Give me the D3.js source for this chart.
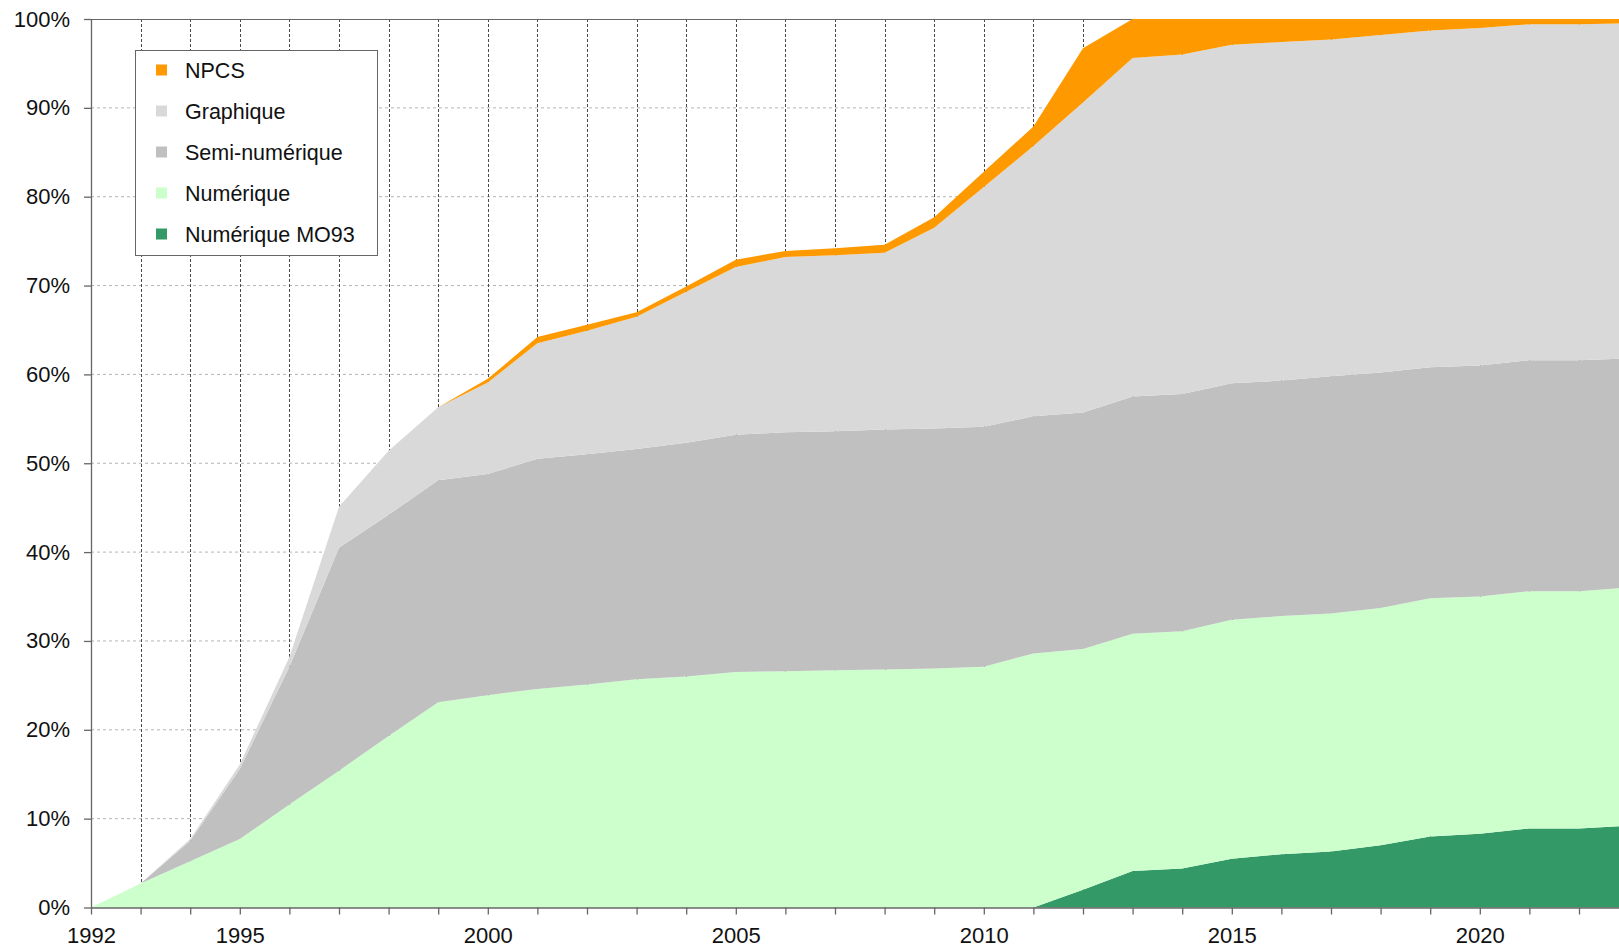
<!DOCTYPE html>
<html lang="fr">
<head>
<meta charset="utf-8">
<title>Parts des plans</title>
<script src="https://cdn.jsdelivr.net/npm/d3@7"></script>
<style>
    body { margin: 0; background: #fff; }
    .tick-label { font-family: "Liberation Sans", Arial, sans-serif; font-size: 22px; fill: #111; }
    .legend-label { font-family: "Liberation Sans", Arial, sans-serif; font-size: 21.5px; fill: #111; }
</style>
</head>
<body>
<div id="chart-area"></div>
<script>

// Years on the x axis
const years = d3.range(1992, 2024);

// Year labels shown under the axis
const yearLabels = [1992, 1995, 2000, 2005, 2010, 2015, 2020];

// Percent ticks on the y axis
const percentTicks = d3.range(0, 101, 10);

// Series names, bottom to top of the stack
const seriesNames = ["Numérique MO93", "Numérique", "Semi-numérique", "Graphique", "NPCS"];

// Share of each series per year (%), 1992 -> 2023
const valuesMO93 = [0, 0, 0, 0, 0, 0, 0, 0, 0, 0, 0, 0, 0, 0, 0, 0, 0, 0, 0, 0,
    2.0, 4.1, 4.4, 5.5, 6.0, 6.3, 7.0, 8.0, 8.3, 8.9, 8.9, 9.2];
const valuesNumerique = [0, 2.7, 5.2, 7.7, 11.6, 15.4, 19.3, 23.1, 23.9, 24.6, 25.1, 25.7, 26.0, 26.5, 26.6, 26.7,
    26.8, 26.9, 27.1, 28.6, 27.1, 26.7, 26.7, 26.9, 26.8, 26.8, 26.7, 26.8, 26.7, 26.7, 26.7, 26.8];
const valuesSemi = [0, 0, 2.3, 7.9, 15.5, 25.1, 24.9, 25.0, 24.9, 25.9, 25.9, 25.9, 26.3, 26.7, 26.9, 26.9,
    27.0, 27.0, 27.0, 26.7, 26.6, 26.7, 26.7, 26.6, 26.5, 26.7, 26.5, 26.0, 26.0, 26.0, 26.0, 25.8];
const valuesGraphique = [0, 0, 0.2, 0.5, 1.1, 4.6, 7.2, 8.2, 10.3, 13.0, 13.9, 14.9, 17.0, 18.9, 19.7, 19.8,
    19.9, 22.6, 27.0, 30.4, 34.9, 38.1, 38.2, 38.1, 38.1, 37.9, 38.0, 37.9, 38.0, 37.8, 37.8, 37.7];
const valuesNPCS = [0, 0, 0, 0, 0, 0, 0, 0, 0.4, 0.7, 0.7, 0.5, 0.6, 0.8, 0.7, 0.8,
    0.9, 1.2, 1.7, 2.2, 6.1, 4.4, 4.0, 2.9, 2.6, 2.3, 1.8, 1.3, 1.0, 0.6, 0.6, 0.5];

// Colors, same order as seriesNames
const seriesColors = ["#339966", "#ccffcc", "#c0c0c0", "#d9d9d9", "#ff9900"];


class StackedAreaChart {
    constructor(parentElement) {
        this.parentElement = parentElement;
        this.displayData = [];

        this.initVis();
    }

    /**
     * Sets up the svg, scales, grid and axes
     */
    initVis() {
        const vis = this;

        vis.width = 1619;
        vis.height = 948;
        vis.plotLeft = 91;
        vis.plotTop = 19;
        vis.plotBottom = 907.5;

        vis.svg = d3.select("#" + vis.parentElement).append("svg")
            .attr("width", vis.width)
            .attr("height", vis.height)
            .style("display", "block");

        // one year is ~49.6px, the plot runs past the right edge of the picture
        vis.x = d3.scaleLinear()
            .domain([1992, 2023])
            .range([vis.plotLeft, vis.plotLeft + 31 * 49.6]);

        vis.y = d3.scaleLinear()
            .domain([0, 100])
            .range([vis.plotBottom, vis.plotTop]);

        // Horizontal gridlines (light grey, dashed)
        vis.svg.append("g")
            .selectAll("line")
            .data(percentTicks.filter(d => d > 0 && d < 100))
            .enter().append("line")
            .attr("x1", vis.plotLeft)
            .attr("x2", vis.width)
            .attr("y1", d => vis.y(d))
            .attr("y2", d => vis.y(d))
            .attr("stroke", "#b4b4b4")
            .attr("stroke-dasharray", "3,3");

        // Vertical gridlines (dark, dashed)
        vis.svg.append("g")
            .selectAll("line")
            .data(years.filter(d => d > 1992))
            .enter().append("line")
            .attr("x1", d => Math.round(vis.x(d)) + 0.5)
            .attr("x2", d => Math.round(vis.x(d)) + 0.5)
            .attr("y1", vis.plotTop)
            .attr("y2", vis.plotBottom)
            .attr("stroke", "#4a4a4a")
            .attr("stroke-dasharray", "3,2");

        // Top border of the plot area
        vis.svg.append("line")
            .attr("x1", vis.plotLeft)
            .attr("x2", vis.width)
            .attr("y1", vis.plotTop + 0.5)
            .attr("y2", vis.plotTop + 0.5)
            .attr("stroke", "#666");

        vis.areaGroup = vis.svg.append("g");

        vis.wrangleData();
    }

    /**
     * Builds one row per year and stacks the series
     */
    wrangleData() {
        const vis = this;

        const allValues = [valuesMO93, valuesNumerique, valuesSemi, valuesGraphique, valuesNPCS];

        vis.displayData = years.map((year, i) => {
            const row = {year: year};
            seriesNames.forEach((name, s) => { row[name] = allValues[s][i]; });
            return row;
        });

        vis.stackedData = d3.stack().keys(seriesNames)(vis.displayData);

        vis.updateVis();
    }

    /**
     * Draws the areas, axes and the legend
     */
    updateVis() {
        const vis = this;

        const area = d3.area()
            .x(d => vis.x(d.data.year))
            .y0(d => vis.y(d[0]))
            .y1(d => vis.y(d[1]));

        vis.areaGroup.selectAll(".layer")
            .data(vis.stackedData)
            .enter().append("path")
            .attr("class", "layer")
            .attr("d", area)
            .attr("fill", (d, i) => seriesColors[i]);

        // X axis: a tick each year, labels only on some years
        const xAxis = d3.axisBottom(vis.x)
            .tickValues(years)
            .tickSize(7)
            .tickSizeOuter(0)
            .tickPadding(13)
            .tickFormat(d => yearLabels.includes(d) ? d : "");

        const xAxisGroup = vis.svg.append("g")
            .attr("transform", "translate(0," + vis.plotBottom + ")")
            .call(xAxis);

        // Y axis
        const yAxis = d3.axisLeft(vis.y)
            .tickValues(percentTicks)
            .tickSize(7)
            .tickSizeOuter(0)
            .tickPadding(14)
            .tickFormat(d => d + "%");

        const yAxisGroup = vis.svg.append("g")
            .attr("transform", "translate(" + vis.plotLeft + ",0)")
            .call(yAxis);

        [xAxisGroup, yAxisGroup].forEach(g => {
            g.select(".domain").attr("stroke", "#666").attr("stroke-width", 1.3);
            g.selectAll(".tick line").attr("stroke", "#666").attr("stroke-width", 1.3);
            g.selectAll(".tick text").attr("class", "tick-label").attr("fill", null);
        });

        // Legend, top entry is the top of the stack
        const legend = vis.svg.append("g");

        legend.append("rect")
            .attr("x", 135.5)
            .attr("y", 50.5)
            .attr("width", 242)
            .attr("height", 205)
            .attr("fill", "#fff")
            .attr("stroke", "#666");

        const legendItems = legend.selectAll(".legend-item")
            .data(seriesNames.slice().reverse())
            .enter().append("g")
            .attr("class", "legend-item")
            .attr("transform", (d, i) => "translate(156," + (70 + i * 41) + ")");

        legendItems.append("rect")
            .attr("x", 0)
            .attr("y", -5.5)
            .attr("width", 11)
            .attr("height", 11)
            .attr("fill", d => seriesColors[seriesNames.indexOf(d)]);

        legendItems.append("text")
            .attr("class", "legend-label")
            .attr("x", 29)
            .attr("dy", "0.36em")
            .text(d => d);
    }
}

new StackedAreaChart("chart-area");

</script>
</body>
</html>
